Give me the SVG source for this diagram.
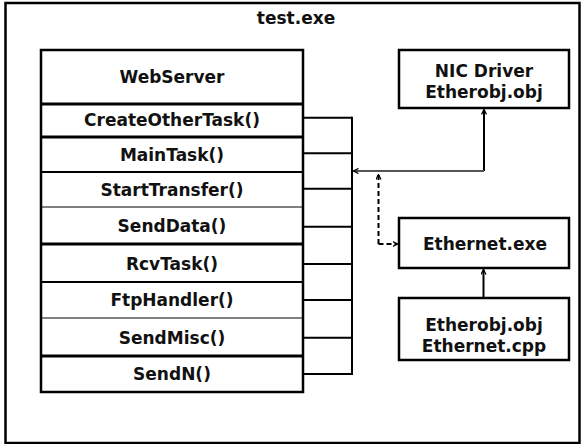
<svg xmlns="http://www.w3.org/2000/svg" width="581" height="444" viewBox="0 0 581 444">
<style>
text{font-family:"DejaVu Sans","Liberation Sans",sans-serif;font-weight:bold;font-size:17px;fill:#111;text-anchor:middle}
.box{fill:#fff;stroke:#000;stroke-width:2.5}
.div{stroke:#000}
.con{fill:none;stroke:#000;stroke-width:2}
.dash{fill:none;stroke:#000;stroke-width:2;stroke-dasharray:5 3}
</style>
<defs>
<marker id="ah" markerWidth="6" markerHeight="6" refX="5" refY="3" orient="auto" markerUnits="userSpaceOnUse">
<path d="M0,0.5 L5,3 L0,5.5" fill="none" stroke="#000" stroke-width="1.3"/>
</marker>
</defs>
<rect id="frame" x="5.5" y="3" width="574" height="440" fill="#fff" stroke="#000" stroke-width="2.5"/>
<text x="296" y="24">test.exe</text>
<g id="webserver">
<rect class="box" x="41" y="50" width="262" height="342" stroke-width="3"/>
<text x="172" y="83">WebServer</text>
<line class="div" x1="41" y1="104" x2="303" y2="104" stroke-width="3"/>
<line class="div" x1="41" y1="137" x2="303" y2="137" stroke-width="3"/>
<line class="div" x1="41" y1="172" x2="303" y2="172" stroke-width="2"/>
<line class="div" x1="41" y1="207" x2="303" y2="207" stroke-width="1"/>
<line class="div" x1="41" y1="244" x2="303" y2="244" stroke-width="3"/>
<line class="div" x1="41" y1="282" x2="303" y2="282" stroke-width="2"/>
<line class="div" x1="41" y1="318" x2="303" y2="318" stroke-width="1"/>
<line class="div" x1="41" y1="356" x2="303" y2="356" stroke-width="3"/>
<text x="172" y="126">CreateOtherTask()</text>
<text x="172" y="161">MainTask()</text>
<text x="172" y="196">StartTransfer()</text>
<text x="172" y="232">SendData()</text>
<text x="172" y="270">RcvTask()</text>
<text x="172" y="306">FtpHandler()</text>
<text x="172" y="344">SendMisc()</text>
<text x="172" y="380">SendN()</text>
</g>
<g id="nic">
<rect class="box" x="399" y="50" width="170" height="58"/>
<text x="484" y="77">NIC Driver</text>
<text x="484" y="98">Etherobj.obj</text>
</g>
<g id="ethernet-exe">
<rect class="box" x="399" y="218" width="170" height="50"/>
<text x="485" y="250">Ethernet.exe</text>
</g>
<g id="etherobj">
<rect class="box" x="399" y="298" width="170" height="62"/>
<text x="484" y="331">Etherobj.obj</text>
<text x="484" y="352">Ethernet.cpp</text>
</g>
<g id="connectors">
<path class="con" d="M303,117.7 H352 M303,153.3 H352 M303,188.7 H352 M303,226.7 H352 M303,264 H352 M303,300 H352 M303,337.7 H352 M303,374 H352"/>
<path class="con" d="M352,116.7 V375" stroke-width="2.5"/>
<path class="con" d="M484,171 V109.5" marker-end="url(#ah)"/>
<path d="M484,171 H353.5" fill="none" stroke="#555" stroke-width="2" marker-end="url(#ah)"/>
<path class="dash" d="M378.5,244 V174.5" marker-end="url(#ah)"/>
<path class="dash" d="M378.5,244 H397.5" marker-end="url(#ah)"/>
<path class="con" d="M483.5,297 V269.5" marker-end="url(#ah)"/>
</g>
</svg>
